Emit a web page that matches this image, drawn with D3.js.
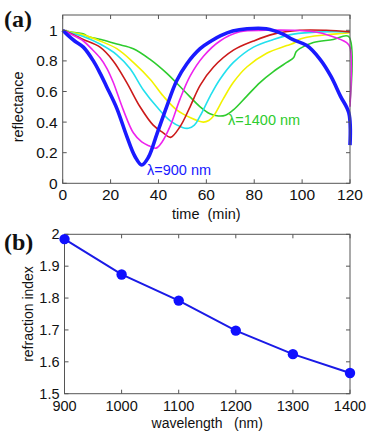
<!DOCTYPE html>
<html><head><meta charset="utf-8">
<script src="https://cdn.jsdelivr.net/npm/d3@7"></script>
<style>
html,body{margin:0;padding:0;background:#fff;}
svg{display:block;}
text{font-family:"Liberation Sans",Arial,sans-serif;fill:#111;}
</style></head>
<body>
<svg id="chart" width="374" height="443"></svg>
<script>
// ---- Panel (a): reflectance vs time, [time (min), reflectance]
const r900  = [[0,1.0],[2,0.97],[5,0.93],[8.6,0.89],[12.8,0.80],[15.6,0.72],[18.4,0.63],[22.6,0.49],[26.7,0.31],[30.2,0.175],[33,0.12],[35.8,0.17],[39.3,0.32],[43.4,0.50],[47.6,0.67],[51.8,0.78],[57.4,0.88],[62,0.93],[66,0.965],[71,0.995],[77,1.01],[85,1.01],[92,0.975],[96,0.94],[102,0.9],[107.5,0.81],[112,0.70],[116,0.57],[119.5,0.46],[120,0.25]];
const r1000 = [[0,1.0],[4,0.97],[8.6,0.93],[12,0.88],[15.6,0.82],[18.5,0.75],[21.1,0.66],[25.3,0.48],[29.5,0.33],[33,0.27],[36,0.245],[39,0.23],[41.5,0.27],[44.8,0.37],[49,0.55],[53.2,0.70],[58.8,0.83],[65.7,0.93],[74,0.99],[85,1.0],[96,1.0],[105,0.99],[111.7,0.965],[118.6,0.92],[120,0.89],[120,0.5]];
const r1100 = [[0,1.0],[4,0.975],[8.6,0.94],[15.6,0.89],[21.1,0.80],[26.7,0.66],[32.3,0.50],[37.8,0.38],[42,0.33],[45,0.30],[49,0.37],[53.2,0.50],[57.4,0.64],[63,0.76],[71.3,0.87],[79.7,0.93],[88,0.975],[99,1.0],[110,1.0],[120,0.99]];
const r1200 = [[0,1.0],[4,0.98],[8.6,0.96],[15.6,0.91],[22.6,0.84],[28.1,0.75],[33.7,0.61],[39.3,0.50],[44.8,0.41],[50,0.365],[52.5,0.36],[55,0.38],[57.4,0.44],[61.6,0.57],[65.7,0.68],[71.3,0.79],[79.7,0.89],[88,0.94],[96.4,0.975],[107.5,0.99],[120,0.99]];
const r1300 = [[0,1.0],[4,0.985],[8.6,0.97],[15.6,0.93],[22.6,0.88],[29.5,0.79],[36.5,0.68],[42,0.57],[47.6,0.48],[53.2,0.43],[58.7,0.40],[61,0.41],[63,0.44],[67,0.55],[71.3,0.66],[76.9,0.76],[85.2,0.85],[93.6,0.9],[97,0.92],[98,0.935],[102,0.955],[113,0.975],[120,0.985]];
const r1400 = [[0,1.0],[5,0.985],[9,0.975],[10.5,0.96],[16,0.94],[22.6,0.91],[29.5,0.88],[36.5,0.81],[43.4,0.72],[50.4,0.61],[57.4,0.50],[61.5,0.455],[65,0.44],[68,0.445],[71.3,0.48],[76.9,0.57],[82.5,0.66],[88,0.73],[93.6,0.79],[96.4,0.82],[97.5,0.86],[99,0.88],[104.7,0.92],[113,0.94],[119.4,0.96],[120,0.53]];
const seriesA = [
  {name:"1400", data:r1400, color:"#2ecc2e", width:1.6},
  {name:"1300", data:r1300, color:"#f2f200", width:1.6},
  {name:"1200", data:r1200, color:"#22e0ee", width:1.6},
  {name:"1100", data:r1100, color:"#cc1a1a", width:1.6},
  {name:"1000", data:r1000, color:"#ee22ee", width:1.6},
  {name:"900",  data:r900,  color:"#1a1aff", width:3.6}
];
const timeTicks = [0,20,40,60,80,100,120];
const reflTicks = [0,0.2,0.4,0.6,0.8,1];

// ---- Panel (b): refraction index vs wavelength
const wavelengths = [900,1000,1100,1200,1300,1400];
const refIndex = [1.985,1.874,1.792,1.698,1.624,1.565];
const wlTicks = [900,1000,1100,1200,1300,1400];
const nTicks = [1.5,1.6,1.7,1.8,1.9,2];

const svg = d3.select("#chart");

function frame(g, x, y, xt, yt, xfmt, yfmt, fs, xdy) {
  const [x0,x1] = x.range(), [y0,y1] = y.range();
  const tl = 4;
  g.append("rect").attr("x",x0).attr("y",y1).attr("width",x1-x0).attr("height",y0-y1)
    .attr("fill","none").attr("stroke","#555").attr("stroke-width",1);
  xt.forEach(v=>{
    const px = x(v);
    g.append("line").attr("x1",px).attr("x2",px).attr("y1",y0).attr("y2",y0-tl).attr("stroke","#555");
    g.append("line").attr("x1",px).attr("x2",px).attr("y1",y1).attr("y2",y1+tl).attr("stroke","#555");
    g.append("text").attr("x",px).attr("y",y0+fs+xdy).attr("text-anchor","middle").attr("font-size",fs).text(xfmt(v));
  });
  yt.forEach(v=>{
    const py = y(v);
    g.append("line").attr("x1",x0).attr("x2",x0+tl).attr("y1",py).attr("y2",py).attr("stroke","#555");
    g.append("line").attr("x1",x1).attr("x2",x1-tl).attr("y1",py).attr("y2",py).attr("stroke","#555");
    g.append("text").attr("x",x0-5).attr("y",py).attr("dy","0.35em").attr("text-anchor","end").attr("font-size",fs).text(yfmt(v));
  });
}

// Panel (a)
const xA = d3.scaleLinear().domain([0,120]).range([62.7,350]);
const yA = d3.scaleLinear().domain([0,1.1]).range([183.3,15]);
const gA = svg.append("g");
const lineA = d3.line().x(d=>xA(d[0])).y(d=>yA(d[1])).curve(d3.curveCatmullRom.alpha(0.5));
gA.append("g").selectAll("path").data(seriesA).join("path")
  .attr("d",d=>lineA(d.data)).attr("fill","none")
  .attr("stroke",d=>d.color).attr("stroke-width",d=>d.width).attr("stroke-linejoin","round");
frame(gA, xA, yA, timeTicks, reflTicks, d3.format("~g"), d3.format("~g"), 15.5, 1);
gA.append("text").attr("x",xA(60)).attr("y",219).attr("text-anchor","middle").attr("font-size",14.5)
  .attr("xml:space","preserve").text("time  (min)");
gA.append("text").attr("transform","translate(23,"+yA(0.5)+") rotate(-90)").attr("text-anchor","middle")
  .attr("font-size",14.5).text("reflectance");
gA.append("text").attr("x",147).attr("y",175).attr("font-size",14.5).style("fill","#1a1aff").text("λ=900 nm");
gA.append("text").attr("x",228).attr("y",125).attr("font-size",14.5).style("fill","#2ecc2e").text("λ=1400 nm");
gA.append("text").attr("x",4).attr("y",27).attr("font-size",24).attr("font-weight","bold")
  .style("font-family","'Liberation Serif','Times New Roman',serif").text("(a)");

// Panel (b)
const xB = d3.scaleLinear().domain([900,1400]).range([64.5,350]);
const yB = d3.scaleLinear().domain([1.5,2]).range([393.7,234.3]);
const gB = svg.append("g");
const ptsB = wavelengths.map((w,i)=>[w,refIndex[i]]);
gB.append("path").attr("d",d3.line().x(d=>xB(d[0])).y(d=>yB(d[1]))(ptsB))
  .attr("fill","none").attr("stroke","#1a1ae6").attr("stroke-width",2);
frame(gB, xB, yB, wlTicks, nTicks, d3.format("~g"), d3.format(".1~f"), 14.5, 2.5);
gB.append("g").selectAll("circle").data(ptsB).join("circle")
  .attr("cx",d=>xB(d[0])).attr("cy",d=>yB(d[1])).attr("r",5.2).attr("fill","#1010ff");
gB.append("text").attr("x",xB(1150)).attr("y",428).attr("text-anchor","middle").attr("font-size",14)
  .attr("xml:space","preserve").text("wavelength   (nm)");
gB.append("text").attr("transform","translate(33,"+yB(1.75)+") rotate(-90)").attr("text-anchor","middle")
  .attr("font-size",14).text("refraction index");
gB.append("text").attr("x",4).attr("y",250).attr("font-size",24).attr("font-weight","bold")
  .style("font-family","'Liberation Serif','Times New Roman',serif").text("(b)");
</script>
</body></html>
